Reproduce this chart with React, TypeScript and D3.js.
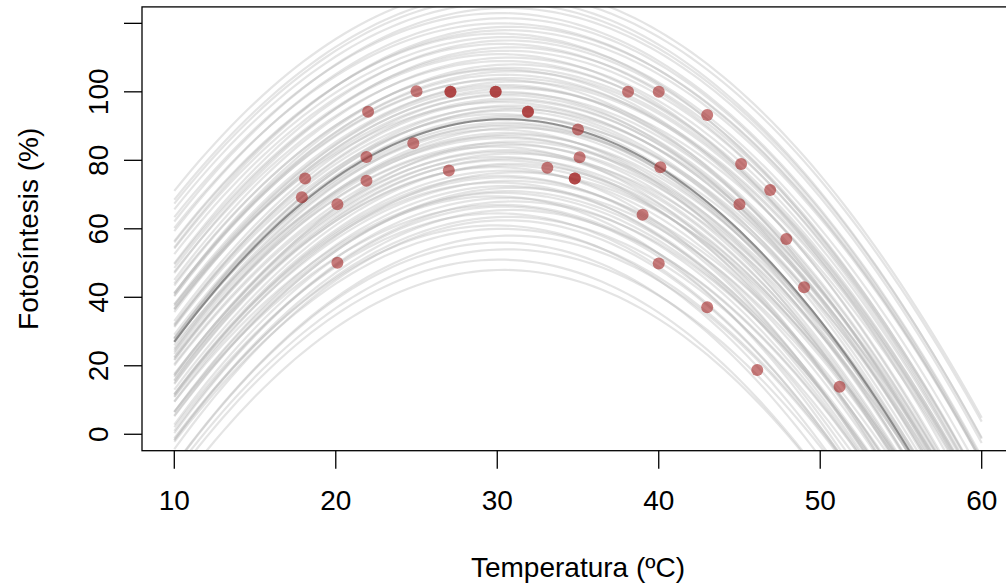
import React from "react";
import * as d3 from "d3";

// ---- Observed data (temperature °C, photosynthesis %) ----
const tempX = [17.9, 18.1, 20.1, 20.1, 22.0, 21.9, 21.9, 25.0, 24.8, 27.1, 27.1, 27.0, 29.9, 29.9, 31.9, 31.9, 33.1, 34.8, 34.8, 35.0, 35.1, 38.1, 40.0, 40.1, 39.0, 40.0, 43.0, 43.0, 45.1, 45.0, 46.9, 47.9, 49.0, 46.1, 51.2];
const fotoY = [69.2, 74.7, 67.2, 50.1, 94.2, 81.0, 74.0, 100.2, 85.0, 100.0, 100.0, 77.0, 100.0, 100.0, 94.2, 94.2, 77.8, 74.7, 74.7, 89.0, 80.9, 100.0, 100.0, 78.0, 64.1, 49.9, 93.2, 37.1, 78.9, 67.2, 71.3, 57.0, 42.9, 18.8, 13.9];

// ---- Posterior quadratic curves: y = peakY - k (x - peakX)^2 ----
const curvePeakY = [
  48, 51, 54, 56, 58, 60, 61, 62.5, 63.5, 64.5,
  65.5, 66.5, 67, 68, 69, 69.5, 70.5, 71, 72, 72.5,
  73.5, 74, 75, 75.5, 76.5, 77, 78, 78.5, 79, 80,
  80.5, 81, 82, 82.5, 83, 84, 84.5, 85, 85.5, 86.5,
  87, 87.5, 88, 89, 89.5, 90, 90.5, 91, 92, 92.5,
  93, 93.5, 94.5, 95, 95.5, 96, 97, 97.5, 98, 99,
  99.5, 100, 101, 101.5, 102, 103, 103.5, 104, 105, 106,
  106.5, 107, 108, 109, 110, 111, 112, 113, 114, 115,
  116, 117, 118, 119, 120, 121.5, 123, 124.5, 126, 127.5,
  129, 131,
];
const curvePeakX = [
  30.4, 30.1, 30.6, 30.2, 30.8, 30.3, 29.9, 30.5, 30.7, 30.0,
  30.9, 30.4, 30.2, 31.0, 30.6, 29.8, 30.3, 30.7, 31.1, 30.5,
  30.0, 30.8, 30.4, 30.2, 31.2, 30.6, 29.9, 30.5, 30.9, 30.3,
  30.7, 30.1, 31.0, 30.4, 30.6, 29.8, 30.8, 30.3, 31.1, 30.5,
  30.2, 30.9, 30.6, 30.0, 31.2, 30.4, 30.7, 30.5, 30.3, 31.0,
  30.8, 30.1, 30.6, 31.1, 30.4, 30.9, 30.2, 30.8, 30.7, 30.5,
  30.9, 30.3, 31.0, 30.6, 30.4, 31.1, 30.2, 30.8, 30.5, 30.9,
  30.3, 30.7, 31.0, 30.4, 30.8, 30.2, 30.6, 30.9, 30.3, 30.7,
  30.5, 30.1, 30.6, 30.8, 30.3, 30.5, 30.2, 30.6, 30.4, 30.3,
  30.5, 30.4,
];
const curveK = [
  0.156, 0.158, 0.153, 0.160, 0.155, 0.151, 0.157, 0.159, 0.152, 0.156,
  0.154, 0.159, 0.148, 0.152, 0.156, 0.161, 0.148, 0.153, 0.150, 0.157,
  0.155, 0.146, 0.152, 0.158, 0.149, 0.154, 0.160, 0.147, 0.151, 0.156,
  0.153, 0.158, 0.146, 0.150, 0.155, 0.159, 0.148, 0.152, 0.157, 0.144,
  0.153, 0.149, 0.156, 0.160, 0.147, 0.151, 0.155, 0.152, 0.158, 0.146,
  0.150, 0.154, 0.157, 0.148, 0.153, 0.156, 0.145, 0.151, 0.155, 0.149,
  0.152, 0.156, 0.146, 0.151, 0.154, 0.149, 0.155, 0.145, 0.152, 0.150,
  0.153, 0.147, 0.152, 0.148, 0.150, 0.153, 0.147, 0.151, 0.149, 0.152,
  0.147, 0.150, 0.146, 0.149, 0.145, 0.148, 0.146, 0.147, 0.145, 0.146,
  0.144, 0.144,
];

// Mean curve: [peakX, peakY, k]
const meanCurve = [30.5, 92.0, 0.1547];

const xTicks = [10, 20, 30, 40, 50, 60];
const yTicks = [0, 20, 40, 60, 80, 100, 120];
const yTickLabels = ["0", "20", "40", "60", "80", "100", ""];
const xDomain = [8, 62];
const yDomain = [-4.8, 124.8];
const curveRange = [10, 60];

const W = 1006;
const H = 584;
const L = 142;
const R = 1014;
const T = 6.9;
const B = 450.7;

export default function App() {
  const x = d3.scaleLinear().domain(xDomain).range([L, R]);
  const y = d3.scaleLinear().domain(yDomain).range([B, T]);
  const xs = d3.range(0, 101).map((i) => curveRange[0] + (i * (curveRange[1] - curveRange[0])) / 100);
  const line = d3
    .line<number[]>()
    .x((d) => x(d[0]))
    .y((d) => y(d[1]));
  const quad = (px: number, py: number, k: number) => xs.map((v) => [v, py - k * (v - px) * (v - px)]);

  const font = "'Liberation Sans', Arial, sans-serif";

  return (
    <svg width={W} height={H} style={{ position: "absolute", left: 0, top: 0, background: "#fff" }}>
      <defs>
        <clipPath id="plotClip">
          <rect x={L} y={T} width={R - L} height={B - T} />
        </clipPath>
      </defs>
      <rect x={0} y={0} width={W} height={H} fill="#fff" />
      <g clipPath="url(#plotClip)">
        {curvePeakY.map((py, i) => (
          <path
            key={i}
            d={line(quad(curvePeakX[i], py, curveK[i])) || ""}
            fill="none"
            stroke="#b4b4b4"
            strokeOpacity={0.36}
            strokeWidth={2.2}
          />
        ))}
        <path
          d={line(quad(meanCurve[0], meanCurve[1], meanCurve[2])) || ""}
          fill="none"
          stroke="#7a7a7a"
          strokeOpacity={0.8}
          strokeWidth={2}
        />
        {tempX.map((t, i) => (
          <circle key={i} cx={x(t)} cy={y(fotoY[i])} r={6} fill="#a52a2a" fillOpacity={0.62} />
        ))}
      </g>
      <rect x={L} y={T} width={R - L} height={B - T} fill="none" stroke="#000" strokeWidth={1.3} />
      {xTicks.map((t) => (
        <g key={t}>
          <line x1={x(t)} x2={x(t)} y1={B} y2={B + 18} stroke="#000" strokeWidth={1.3} />
          <text x={x(t)} y={510} textAnchor="middle" fontFamily={font} fontSize={28} fill="#000">
            {t}
          </text>
        </g>
      ))}
      {yTicks.map((t, i) => (
        <g key={t}>
          <line x1={L - 18} x2={L} y1={y(t)} y2={y(t)} stroke="#000" strokeWidth={1.3} />
          <text
            transform={`translate(108,${y(t)}) rotate(-90)`}
            textAnchor="middle"
            fontFamily={font}
            fontSize={28}
            fill="#000"
          >
            {yTickLabels[i]}
          </text>
        </g>
      ))}
      <text x={(L + R) / 2} y={577} textAnchor="middle" fontFamily={font} fontSize={28} fill="#000">
        Temperatura (ºC)
      </text>
      <text
        transform={`translate(38,${(T + B) / 2}) rotate(-90)`}
        textAnchor="middle"
        fontFamily={font}
        fontSize={28}
        fill="#000"
      >
        Fotosíntesis (%)
      </text>
    </svg>
  );
}
